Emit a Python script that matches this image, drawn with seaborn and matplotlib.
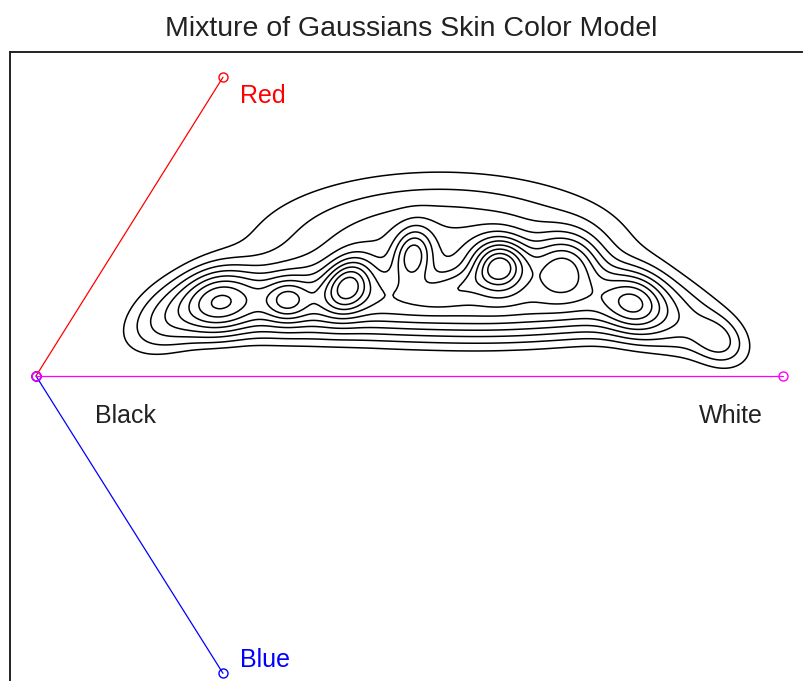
import numpy as np
import pandas as pd
import matplotlib
matplotlib.use("Agg")
import matplotlib.pyplot as plt
import seaborn as sns

# Colour-space axes: Black at the origin, White along +u, Red and Blue off-axis
axis_names = ["Red", "Blue", "White"]
axis_colors = ["#ff0000", "#0000ff", "#ff00ff"]
axis_u = [0.2503, 0.2503, 1.0]
axis_v = [0.400, -0.398, 0.0]

# Mixture components: centre (u, v), spread (su, sv), rotation (deg), weight
# narrow peaks
peak_u = [0.2463, 0.3360, 0.4177, 0.5047, 0.6212, 0.7055, 0.8005, 0.9116, 0.5676]
peak_v = [0.0991, 0.1017, 0.1218, 0.1620, 0.1473, 0.1459, 0.0977, 0.0482, 0.1218]
peak_su = [0.0295, 0.0187, 0.0241, 0.0228, 0.0241, 0.0295, 0.0254, 0.0228, 0.0335]
peak_sv = [0.0254, 0.0174, 0.0187, 0.0161, 0.0228, 0.0268, 0.0228, 0.0174, 0.0134]
peak_rot = [20, 10, 60, 80, 0, 10, -30, -35, 20]
peak_w = [0.45, 0.38, 0.75, 0.55, 1.05, 0.60, 0.40, 0.16, 0.18]
# ridge components
ridge_u = [0.1861, 0.2865, 0.3936, 0.5007, 0.6078, 0.7149, 0.8086, 0.9090]
ridge_v = [0.0776, 0.0977, 0.1017, 0.0991, 0.0950, 0.0977, 0.0910, 0.0549]
ridge_su = [0.0469, 0.0669, 0.0669, 0.0669, 0.0669, 0.0669, 0.0602, 0.0535]
ridge_sv = [0.0268, 0.0295, 0.0295, 0.0295, 0.0295, 0.0295, 0.0295, 0.0335]
ridge_rot = [25, 0, 0, 0, 0, 0, -20, -35]
ridge_w = [0.23, 0.30, 0.30, 0.30, 0.30, 0.30, 0.30, 0.07]
# broad component
broad_u = [0.5408]
broad_v = [0.1687]
broad_su = [0.1473]
broad_sv = [0.0602]
broad_rot = [0]
broad_w = [0.33]

contour_levels = [0.05, 0.09, 0.14, 0.2, 0.27, 0.35, 0.44, 0.54, 0.65, 0.77, 0.88]

sns.set_style("white")
plt.rcParams["font.family"] = ["Liberation Sans", "DejaVu Sans"]

W, H = 804, 681
fig = plt.figure(figsize=(W / 100, H / 100), dpi=100)
ax = fig.add_axes([10 / W, -19 / H, 810 / W, 648 / H])
ax.set_xlim(-26 / 747, 784 / 747)
ax.set_ylim(-324 / 747, 324 / 747)
ax.set_xticks([])
ax.set_yticks([])
for side in ["right", "bottom"]:
    ax.spines[side].set_visible(False)
for side in ["left", "top"]:
    ax.spines[side].set_color("#222222")
    ax.spines[side].set_linewidth(1.4)

# Density of the mixture on a grid
gu = np.linspace(0.03, 1.06, 320)
gv = np.linspace(-0.08, 0.38, 150)
U, V = np.meshgrid(gu, gv)
Z = np.zeros_like(U)
groups = [
    (peak_u, peak_v, peak_su, peak_sv, peak_rot, peak_w),
    (ridge_u, ridge_v, ridge_su, ridge_sv, ridge_rot, ridge_w),
    (broad_u, broad_v, broad_su, broad_sv, broad_rot, broad_w),
]
for cu, cv, csu, csv, crot, cw in groups:
    for mu, mv, su, sv, rot, w in zip(cu, cv, csu, csv, crot, cw):
        t = np.deg2rad(rot)
        du, dv = U - mu, V - mv
        a = (du * np.cos(t) + dv * np.sin(t)) / su
        b = (-du * np.sin(t) + dv * np.cos(t)) / sv
        Z += w * np.exp(-0.5 * (a * a + b * b))
Z /= Z.max()
ax.contour(U, V, Z, levels=contour_levels, colors="black", linewidths=1.1)

# Colour axes from the Black origin
for name, c, u, v in zip(axis_names, axis_colors, axis_u, axis_v):
    df = pd.DataFrame({"u": [0.0, u], "v": [0.0, v]})
    sns.lineplot(data=df, x="u", y="v", sort=False, color=c, linewidth=0.9,
                 marker="o", markersize=6.5, markerfacecolor="none",
                 markeredgecolor=c, markeredgewidth=1.0, ax=ax)

ax.set_xlabel("")
ax.set_ylabel("")

lab_fs = 18
px = 1 / 747
ax.text(240 * px - 36 * px, (376 - 103) * px, "Red", color="#ff0000",
        fontsize=lab_fs, va="baseline", ha="left")
ax.text(240 * px - 36 * px, (376 - 667) * px, "Blue", color="#0000ff",
        fontsize=lab_fs, va="baseline", ha="left")
ax.text(95 * px - 36 * px, (376 - 423) * px, "Black", color="#222222",
        fontsize=lab_fs, va="baseline", ha="left")
ax.text(699 * px - 36 * px, (376 - 423) * px, "White", color="#222222",
        fontsize=lab_fs, va="baseline", ha="left")

fig.text(411.5 / W, 1 - 36 / H, "Mixture of Gaussians Skin Color Model",
         ha="center", va="baseline", fontsize=20.5, color="#222222")

fig.savefig("out.png", dpi=100, facecolor="white")
